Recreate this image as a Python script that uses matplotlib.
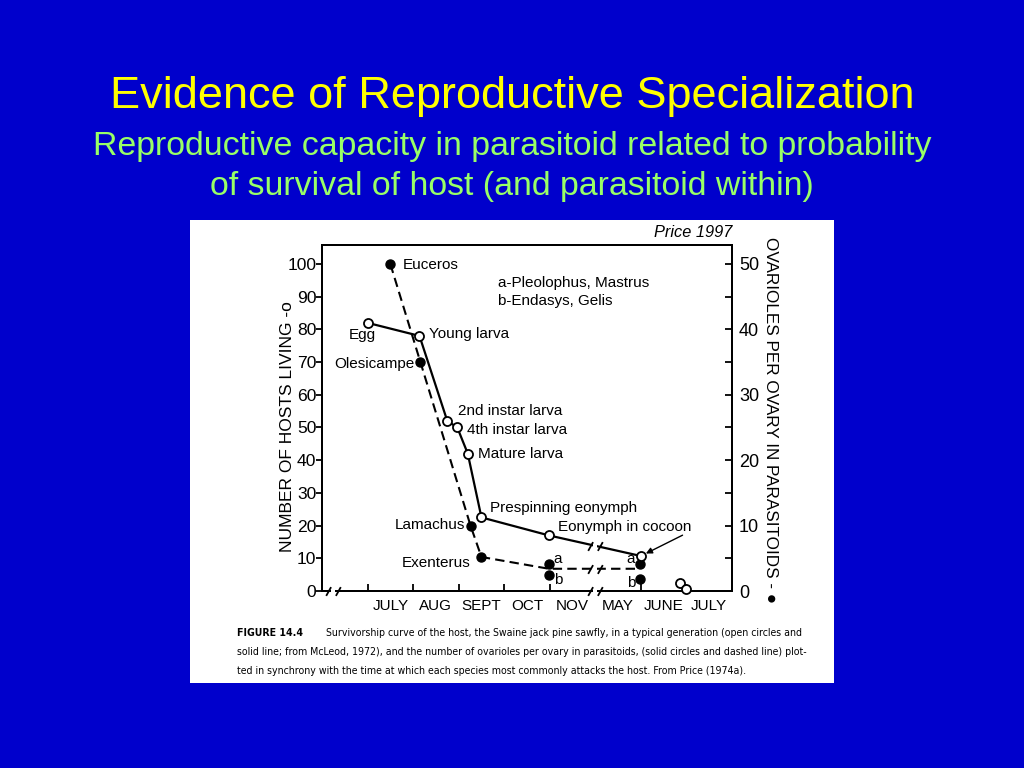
import matplotlib
matplotlib.use('Agg')
import matplotlib.pyplot as plt
from matplotlib.patches import Rectangle
from matplotlib.path import Path
from matplotlib import font_manager
from matplotlib.font_manager import FontProperties

plt.rcParams['font.family'] = ['Liberation Sans', 'DejaVu Sans']

# x axis in month units: 0 = start of July; the gap Dec-Apr is cut out at x=5
months = ['JULY', 'AUG', 'SEPT', 'OCT', 'NOV', 'MAY', 'JUNE', 'JULY']
month_edges = [0, 1, 2, 3, 4, 6, 7]

# host survivorship (open circles, solid line, left axis)
host_x = [0.0, 1.14, 1.75, 1.97, 2.2, 2.5, 3.98, 6.0]
host_y = [82, 78, 52, 50, 42, 22.5, 17, 10.7]
host_names = ['Egg', 'Young larva', '2nd instar larva', '4th instar larva',
              'Mature larva', 'Prespinning eonymph', '', 'Eonymph in cocoon']
host_late_x = [6.86, 7.0]
host_late_y = [2.4, 0.6]

# parasitoid ovarioles (solid circles, dashed line, right axis)
para_x = [0.5, 1.16, 2.26, 2.5]
para_y = [50, 35, 10, 5.2]
para_names = ['Euceros', 'Olesicampe', 'Lamachus', 'Exenterus']
ab_x = [3.98, 5.98]
a_y = [4.2, 4.1]
b_y = [2.5, 1.9]
ab_line_y = [3.4, 3.4]

W, H = 1024, 768
fig = plt.figure(figsize=(W / 100, H / 100), dpi=100)
fig.patch.set_facecolor('#0000CC')

# white picture box
fig.patches.append(Rectangle((190 / W, 85 / H), 644 / W, 463 / H,
                             transform=fig.transFigure, facecolor='white',
                             edgecolor='none', zorder=-5))

fig.text(0.5, 1 - 108 / H, 'Evidence of Reproductive Specialization',
         ha='center', va='baseline', fontsize=32.5, color='#FFFF00')
fig.text(0.5, 1 - 155 / H, 'Reproductive capacity in parasitoid related to probability',
         ha='center', va='baseline', fontsize=24.4, color='#99FF66')
fig.text(0.5, 1 - 195 / H, 'of survival of host (and parasitoid within)',
         ha='center', va='baseline', fontsize=24.4, color='#99FF66')

ax = fig.add_axes([322 / W, (H - 591) / H, 410 / W, 346 / H])
ax2 = ax.twinx()
ax.set_zorder(ax2.get_zorder() + 1)
ax.patch.set_visible(False)

ax.set_xlim(-1, 8)
ax.set_ylim(0, 105.8)
ax2.set_ylim(0, 52.9)

for a in (ax, ax2):
    for s in a.spines.values():
        s.set_linewidth(1.4)

# left axis
ax.set_yticks(range(0, 101, 10))
ax.tick_params(axis='y', direction='out', length=4, width=1.3, pad=0, labelsize=12.6)
ax.set_ylabel('NUMBER OF HOSTS LIVING -o', fontsize=12.5)
ax.yaxis.set_label_coords(-0.066, 0.474)

# bottom axis
ax.set_xticks(month_edges)
ax.set_xticklabels([])
ax.set_xticks([i + 0.5 for i in range(len(months))], minor=True)
ax.set_xticklabels(months, minor=True)
ax.tick_params(axis='x', which='major', direction='in', length=5, width=1.3)
ax.tick_params(axis='x', which='minor', length=0, pad=6, labelsize=11)

# right axis
ax2.set_yticks(range(0, 51, 10))
ax2.set_yticks(range(5, 51, 10), minor=True)
ax2.tick_params(axis='y', which='both', direction='in', length=5, width=1.3,
                pad=5, labelsize=13)
ax2.set_ylabel('OVARIOLES PER OVARY IN PARASITOIDS - \u25cf', fontsize=12.3,
               rotation=-90, family=['Liberation Sans', 'DejaVu Sans'])
ax2.yaxis.set_label_coords(1.113, 0.494)

# parasitoid series
ax2.plot(para_x + ab_x, para_y + ab_line_y, color='black', lw=1.5,
         linestyle=(0, (4.5, 2.5)), zorder=2)
ax2.plot(para_x, para_y, 'o', color='black', ms=6.5, zorder=3)
ax2.plot(ab_x, a_y, 'o', color='black', ms=6.5, zorder=3)
ax2.plot(ab_x, b_y, 'o', color='black', ms=6.5, zorder=3)

para_offsets = [(9, -1, 'left'), (-4, -1.5, 'right'), (-4, 0.5, 'right'), (-8, -4.5, 'right')]
for x, y, name, (dx, dy, ha) in zip(para_x, para_y, para_names, para_offsets):
    ax2.annotate(name, (x, y), xytext=(dx, dy), textcoords='offset points',
                 ha=ha, va='center', fontsize=11)
ab_offsets = [(3.5, -3.5, 'left'), (-3.5, -3.5, 'right')]
for x, ya, yb, (dx, dy, ha) in zip(ab_x, a_y, b_y, ab_offsets):
    ax2.annotate('a', (x, ya), xytext=(dx, -dy), textcoords='offset points',
                 ha=ha, va='center', fontsize=11)
    ax2.annotate('b', (x, yb), xytext=(dx, dy), textcoords='offset points',
                 ha=ha, va='center', fontsize=11)

# host series
ax.plot(host_x, host_y, color='black', lw=1.6, zorder=2)
ax.plot(host_x, host_y, 'o', mfc='white', mec='black', mew=1.3, ms=6.5, zorder=3)
ax.plot(host_late_x, host_late_y, 'o', mfc='white', mec='black', mew=1.3, ms=6.5,
        zorder=3, clip_on=False)

host_offsets = [(-4, -8.5, 'center'), (7, 1.5, 'left'), (8, 7, 'left'), (7, -1.5, 'left'),
                (7, -0.5, 'left'), (6, 7, 'left'), (0, 0, 'left'), (-60, 21, 'left')]
for x, y, name, (dx, dy, ha) in zip(host_x, host_y, host_names, host_offsets):
    if name:
        ax.annotate(name, (x, y), xytext=(dx, dy), textcoords='offset points',
                    ha=ha, va='center', fontsize=11)
ax.annotate('', (host_x[-1], host_y[-1]), xytext=(30, 15), textcoords='offset points',
            arrowprops=dict(arrowstyle='-|>', color='black', lw=1.0,
                            mutation_scale=9, shrinkA=0, shrinkB=4))

ax.text(2.86, 94.2, 'a-Pleolophus, Mastrus', ha='left', va='center', fontsize=11)
ax.text(2.86, 88.7, 'b-Endasys, Gelis', ha='left', va='center', fontsize=11)
ax.text(1.0, 1.015, 'Price 1997', transform=ax.transAxes, ha='right', va='bottom',
        fontsize=11.8, style='italic')

# axis break marks "//"
slash = Path([(-3, -1.8), (-1, 1.8), (1, -1.8), (3, 1.8)],
             [Path.MOVETO, Path.LINETO, Path.MOVETO, Path.LINETO])
gap = Path([(-1, -1.5), (1, -1.5), (1, 1.5), (-1, 1.5), (-1, -1.5)])


def draw_break(axis, x, y):
    axis.plot([x], [y], marker=gap, ms=5, mfc='white', mec='white', mew=0,
              linestyle='none', zorder=5, clip_on=False)
    axis.plot([x], [y], marker=slash, ms=10.5, mec='black', mew=1.3,
              linestyle='none', zorder=6, clip_on=False)


hx0, hx1 = host_x[-2], host_x[-1]
hy0, hy1 = host_y[-2], host_y[-1]
draw_break(ax, 5, hy0 + (5 - hx0) / (hx1 - hx0) * (hy1 - hy0))
draw_break(ax, 5, 0)
draw_break(ax, -0.75, 0)
draw_break(ax2, 5, ab_line_y[0])

# caption: prefer a condensed face, then fit the widest line to the box
reg_file, bold_file = None, None
for f in font_manager.fontManager.ttflist:
    n = (f.fname + ' ' + f.name).lower()
    if ('narrow' in n or 'condensed' in n) and f.style == 'normal':
        if f.weight in ('bold', 700) and bold_file is None:
            bold_file = f.fname
        elif f.weight in ('normal', 'regular', 400) and reg_file is None:
            reg_file = f.fname
if reg_file:
    cap_reg = FontProperties(fname=reg_file, size=9.6)
    cap_bold = FontProperties(fname=bold_file or reg_file, size=9.6)
else:
    cap_reg = FontProperties(family='Liberation Sans', size=9.6)
    cap_bold = FontProperties(family='Liberation Sans', weight='bold', size=9.6)

caption = [
    'Survivorship curve of the host, the Swaine jack pine sawfly, in a typical generation (open circles and',
    'solid line; from McLeod, 1972), and the number of ovarioles per ovary in parasitoids, (solid circles and dashed line) plot-',
    'ted in synchrony with the time at which each species most commonly attacks the host. From Price (1974a).',
]
cap_texts = [fig.text(237 / W, 1 - 633 / H, 'FIGURE 14.4', ha='left', va='center',
                      fontproperties=cap_bold)]
cap_texts.append(fig.text(326 / W, 1 - 633 / H, caption[0], ha='left', va='center',
                          fontproperties=cap_reg))
cap_texts.append(fig.text(237 / W, 1 - 652 / H, caption[1], ha='left', va='center',
                          fontproperties=cap_reg))
cap_texts.append(fig.text(237 / W, 1 - 671 / H, caption[2], ha='left', va='center',
                          fontproperties=cap_reg))

fig.canvas.draw()
renderer = fig.canvas.get_renderer()
w = cap_texts[2].get_window_extent(renderer).width
scale = 575 / w
for t in cap_texts:
    t.set_fontsize(9.6 * scale)

fig.savefig('out.png', dpi=100, facecolor=fig.get_facecolor())
